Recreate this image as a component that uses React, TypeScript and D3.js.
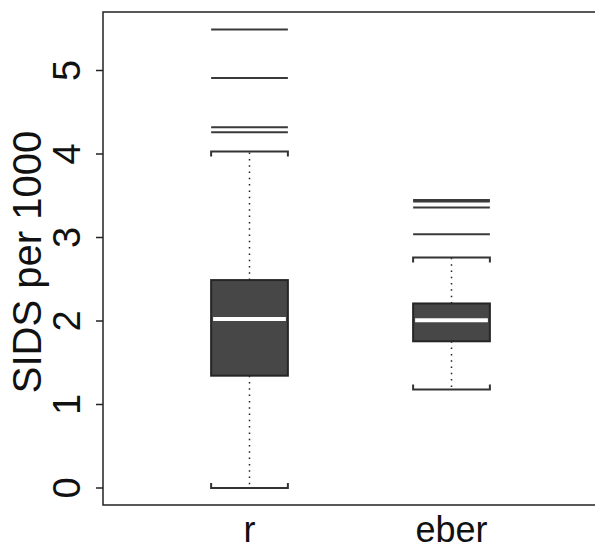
import React, { useEffect, useRef } from "react";
import * as d3 from "d3";

// values
const groups = ["r", "eber"];
const lowerWhisker = [0.0, 1.18];
const q1 = [1.345, 1.757];
const median = [2.024, 2.008];
const q3 = [2.49, 2.21];
const upperWhisker = [4.03, 2.76];
const outliersR = [5.49, 4.91, 4.32, 4.26];
const outliersEber = [3.45, 3.43, 3.36, 3.04];
const yTicks = [0, 1, 2, 3, 4, 5];
const yLabel = "SIDS per 1000";

const outliers = [outliersR, outliersEber];

const W = 595;
const H = 544;

const App = () => {
  const svgRef = useRef<SVGSVGElement>(null);

  useEffect(() => {
    const svg = d3.select(svgRef.current);
    svg.selectAll("*").remove();

    const frame = { left: 103, top: 12, bottom: 505, right: W + 20 };
    const font = "'Liberation Sans', Arial, sans-serif";

    const y = d3.scaleLinear().domain([0, 5]).range([488, 70.5]);
    const x = d3.scaleLinear().domain([1, 2]).range([249.5, 451.5]);
    const halfW = 0.19; // half box width, in x units

    // frame (right side is cut off in the reference)
    svg
      .append("path")
      .attr(
        "d",
        `M${frame.right},${frame.top}H${frame.left}V${frame.bottom}H${frame.right}`
      )
      .attr("fill", "none")
      .attr("stroke", "#222")
      .attr("stroke-width", 1.5);

    // y axis
    const yAxis = svg.append("g");
    yAxis
      .selectAll("line")
      .data(yTicks)
      .join("line")
      .attr("x1", frame.left - 7)
      .attr("x2", frame.left)
      .attr("y1", (d) => y(d))
      .attr("y2", (d) => y(d))
      .attr("stroke", "#222")
      .attr("stroke-width", 1.5);

    yAxis
      .selectAll("text")
      .data(yTicks)
      .join("text")
      .attr("transform", (d) => `translate(80, ${y(d)}) rotate(-90)`)
      .attr("text-anchor", "middle")
      .style("font-family", font)
      .style("font-size", "38px")
      .attr("fill", "#111")
      .text((d) => d);

    svg
      .append("text")
      .attr("transform", `translate(41, 262) rotate(-90)`)
      .attr("text-anchor", "middle")
      .style("font-family", font)
      .style("font-size", "40px")
      .attr("fill", "#111")
      .text(yLabel);

    // boxes
    groups.forEach((name, i) => {
      const cx = i + 1;
      const xl = x(cx - halfW);
      const xr = x(cx + halfW);
      const g = svg.append("g");

      // whiskers (dotted)
      g.selectAll(".whisker")
        .data([
          [q3[i], upperWhisker[i]],
          [q1[i], lowerWhisker[i]],
        ])
        .join("line")
        .attr("x1", x(cx))
        .attr("x2", x(cx))
        .attr("y1", (d) => y(d[0]))
        .attr("y2", (d) => y(d[1]))
        .attr("stroke", "#222")
        .attr("stroke-width", 1.5)
        .attr("stroke-dasharray", "1.5 4.8");

      // staples, bent toward the box
      const tick = 5;
      g.append("path")
        .attr(
          "d",
          `M${xl},${y(upperWhisker[i]) + tick}V${y(upperWhisker[i])}H${xr}V${
            y(upperWhisker[i]) + tick
          }`
        )
        .attr("fill", "none")
        .attr("stroke", "#333")
        .attr("stroke-width", 2);
      g.append("path")
        .attr(
          "d",
          `M${xl},${y(lowerWhisker[i]) - tick}V${y(lowerWhisker[i])}H${xr}V${
            y(lowerWhisker[i]) - tick
          }`
        )
        .attr("fill", "none")
        .attr("stroke", "#333")
        .attr("stroke-width", 2);

      // box
      g.append("rect")
        .attr("x", xl)
        .attr("y", y(q3[i]))
        .attr("width", xr - xl)
        .attr("height", y(q1[i]) - y(q3[i]))
        .attr("fill", "#474747")
        .attr("stroke", "#262626")
        .attr("stroke-width", 2);

      // median
      g.append("line")
        .attr("x1", xl + 2)
        .attr("x2", xr - 2)
        .attr("y1", y(median[i]))
        .attr("y2", y(median[i]))
        .attr("stroke", "white")
        .attr("stroke-width", 4);

      // outliers drawn as horizontal lines
      g.selectAll(".out")
        .data(outliers[i])
        .join("line")
        .attr("x1", xl)
        .attr("x2", xr)
        .attr("y1", (d) => y(d))
        .attr("y2", (d) => y(d))
        .attr("stroke", "#3a3a3a")
        .attr("stroke-width", 2);

      // category label
      svg
        .append("text")
        .attr("x", x(cx))
        .attr("y", 542)
        .attr("text-anchor", "middle")
        .style("font-family", font)
        .style("font-size", "36px")
        .attr("fill", "#111")
        .text(name);
    });
  }, []);

  return (
    <div style={{ position: "absolute", left: 0, top: 0 }}>
      <svg ref={svgRef} width={W} height={H} style={{ display: "block", background: "white" }} />
    </div>
  );
};

export default App;
